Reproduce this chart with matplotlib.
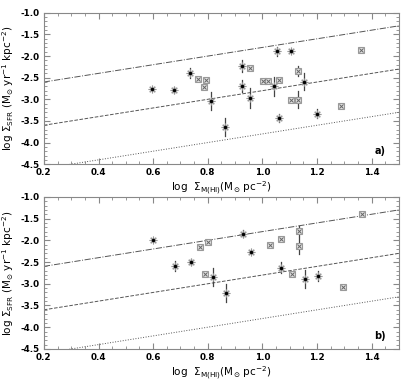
import numpy as np
import matplotlib
matplotlib.use("Agg")
import matplotlib.pyplot as plt

# --- panel a) ---
a_x = [0.597, 0.676, 0.735, 0.765, 0.795, 0.785, 0.813, 0.864, 0.925, 0.953, 0.925, 0.953, 1.001,
       1.022, 1.062, 1.043, 1.052, 1.103, 1.131, 1.152, 1.103, 1.131, 1.062, 1.201, 1.288, 1.359]
a_y = [-2.77, -2.78, -2.39, -2.54, -2.56, -2.72, -3.03, -3.64, -2.23, -2.28, -2.70, -2.97, -2.58,
       -2.58, -2.55, -2.70, -1.89, -1.89, -2.35, -2.59, -3.01, -3.01, -3.43, -3.33, -3.15, -1.85]
a_err = [0.0, 0.07, 0.11, 0.0, 0.0, 0.0, 0.21, 0.20, 0.13, 0.0, 0.14, 0.22, 0.0,
         0.0, 0.0, 0.22, 0.11, 0.0, 0.12, 0.20, 0.0, 0.20, 0.10, 0.10, 0.0, 0.0]
a_kind = ['s', 's', 's', 'q', 'q', 'q', 's', 's', 's', 'q', 's', 's', 'q',
          'q', 'q', 's', 's', 's', 'q', 's', 'q', 'q', 's', 's', 'q', 'q']

# --- panel b) ---
b_x = [0.601, 0.679, 0.739, 0.770, 0.800, 0.928, 0.959, 0.790, 0.819, 0.868,
       1.028, 1.067, 1.135, 1.135, 1.365, 1.067, 1.107, 1.157, 1.204, 1.295]
b_y = [-1.99, -2.59, -2.50, -2.16, -2.04, -1.85, -2.27, -2.78, -2.85, -3.22,
       -2.11, -1.97, -1.78, -2.12, -1.40, -2.63, -2.77, -2.89, -2.82, -3.07]
b_err = [0.0, 0.11, 0.08, 0.0, 0.0, 0.08, 0.0, 0.0, 0.21, 0.21,
         0.0, 0.0, 0.12, 0.20, 0.0, 0.12, 0.0, 0.20, 0.12, 0.0]
b_kind = ['s', 's', 's', 'q', 'q', 's', 's', 'q', 's', 's',
          'q', 'q', 'q', 'q', 'q', 's', 'q', 's', 's', 'q']

# reference lines: log SFR = log Sigma + offset
line_offsets = [-2.8, -3.8, -4.8]
line_styles = ['-.', '--', ':']

GRAY = '#888888'


def draw_panel(ax, xs, ys, errs, kinds, tag):
    xl = np.array([0.2, 1.5])
    for off, ls in zip(line_offsets, line_styles):
        ax.plot(xl, xl + off, ls=ls, color='#555555', lw=0.7)
    for x, y, e, k in zip(xs, ys, errs, kinds):
        if e > 0:
            ax.plot([x, x], [y - e, y + e], color='#444444', lw=0.9, zorder=3)
        if k == 's':
            ax.plot(x, y, marker=(8, 2, 0), ms=5.5, color='#999999', mew=0.8, zorder=4)
            ax.plot(x, y, marker='o', ms=1.5, color='black', zorder=5)
        else:
            ax.plot(x, y, marker='s', ms=4.2, mfc='#e4e4e4', mec='#999999', mew=0.8, zorder=4)
            ax.plot(x, y, marker='x', ms=3.2, color='#666666', mew=0.7, zorder=5)
    ax.set_xlim(0.2, 1.5)
    ax.set_ylim(-4.5, -1.0)
    ax.set_xticks(np.arange(0.2, 1.41, 0.2))
    ax.set_xticks(np.arange(0.2, 1.5, 0.05), minor=True)
    ax.set_yticks(np.arange(-4.5, -0.99, 0.5))
    ax.set_yticks(np.arange(-4.5, -0.99, 0.1), minor=True)
    ax.set_xticklabels(['%.1f' % v for v in np.arange(0.2, 1.41, 0.2)], fontweight='bold')
    ax.set_yticklabels(['%.1f' % v for v in np.arange(-4.5, -0.99, 0.5)], fontweight='bold')
    ax.tick_params(which='both', direction='in', top=True, right=True, color=GRAY,
                   labelsize=6.3, pad=3)
    ax.tick_params(which='major', length=4, width=0.8)
    ax.tick_params(which='minor', length=2, width=0.6)
    for s in ax.spines.values():
        s.set_color(GRAY)
        s.set_linewidth(0.8)
    ax.set_xlabel(r'log  $\Sigma_{\rm M(HI)}$(M$_{\odot}$ pc$^{-2}$)', fontsize=7.5, labelpad=2)
    ax.set_ylabel(r'log $\Sigma_{\rm SFR}$ (M$_{\odot}$ yr$^{-1}$ kpc$^{-2}$)', fontsize=7.5, labelpad=3)
    ax.text(1.43, -4.2, tag, fontsize=7, fontweight='bold', ha='center', va='center')


fig = plt.figure(figsize=(4.06, 3.89), dpi=100)
ax1 = fig.add_axes([0.108, 0.578, 0.875, 0.389])
ax2 = fig.add_axes([0.108, 0.103, 0.875, 0.391])
draw_panel(ax1, a_x, a_y, a_err, a_kind, 'a)')
draw_panel(ax2, b_x, b_y, b_err, b_kind, 'b)')
fig.savefig('out.png', dpi=100)
